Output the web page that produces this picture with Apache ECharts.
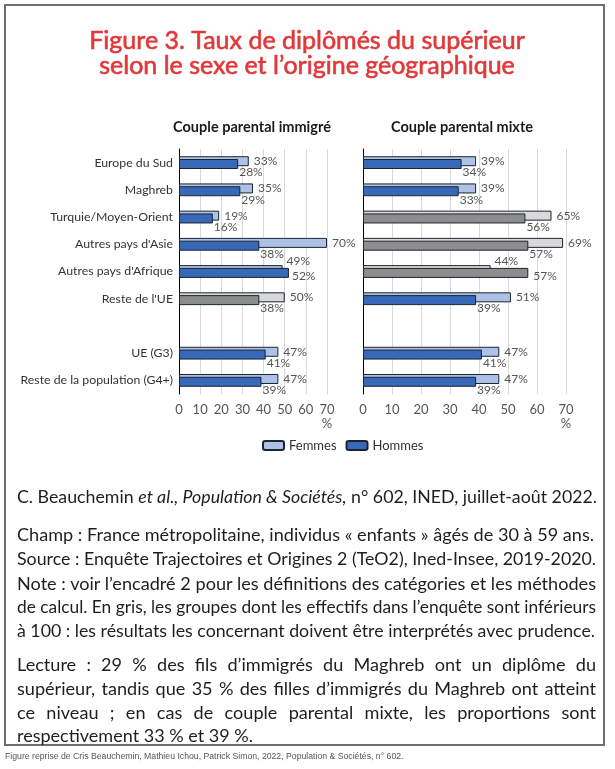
<!DOCTYPE html>
<html><head><meta charset="utf-8">
<script src="https://cdn.jsdelivr.net/npm/echarts@6/dist/echarts.min.js"></script>
<style>
html,body{margin:0;padding:0;background:#fff;}
#wrap{position:relative;width:615px;height:769px;overflow:hidden;background:#fff;}
#chart{position:absolute;left:0;top:0;width:615px;height:769px;}
#frame{position:absolute;left:4px;top:4px;width:597px;height:738px;border:2px solid #6e6e6e;pointer-events:none;}
.ln{position:absolute;left:17px;white-space:nowrap;font-family:Lato,'Open Sans',sans-serif;font-size:15.5px;color:#1e1e1e;line-height:20px;transform-origin:0 0;}
.j{text-align:justify;text-align-last:justify;}
#foot{position:absolute;left:5px;top:751px;font-family:'Liberation Sans',Arial,sans-serif;font-size:8.7px;color:#555;white-space:nowrap;}
</style></head>
<body>
<div id="wrap">
  <div id="chart"></div>
  <div id="frame"></div>
  <div class="ln" data-w="580" style="top:486px">C. Beauchemin <i>et al., Population &amp; Sociétés,</i> n° 602, INED, juillet-août 2022.</div>
  <div class="ln" id="champ" data-w="577" style="top:524px">Champ : France métropolitaine, individus « enfants » âgés de 30 à 59 ans.</div>
  <div class="ln" data-w="579" style="top:548px">Source : Enquête Trajectoires et Origines 2 (TeO2), Ined-Insee, 2019-2020.</div>
  <div class="ln" data-w="579" data-j="1" style="top:573px">Note : voir l’encadré 2 pour les définitions des catégories et les méthodes</div>
  <div class="ln" data-w="579" data-j="1" style="top:596px">de calcul. En gris, les groupes dont les effectifs dans l’enquête sont inférieurs</div>
  <div class="ln" data-w="578" style="top:620px">à 100 : les résultats les concernant doivent être interprétés avec prudence.</div>
  <div class="ln" data-w="579" data-j="1" style="top:654px">Lecture : 29 % des fils d’immigrés du Maghreb ont un diplôme du</div>
  <div class="ln" data-w="579" data-j="1" style="top:678px">supérieur, tandis que 35 % des filles d’immigrés du Maghreb ont atteint</div>
  <div class="ln" data-w="579" data-j="1" style="top:702px">ce niveau ; en cas de couple parental mixte, les proportions sont</div>
  <div class="ln" data-w="236" style="top:725px">respectivement 33 % et 39 %.</div>
  <div id="foot">Figure reprise de Cris Beauchemin, Mathieu Ichou, Patrick Simon, 2022, Population &amp; Sociétés, n° 602.</div>
</div>
<script>
// ---- data ----
const categories = ['Europe du Sud', 'Maghreb', 'Turquie/Moyen-Orient', "Autres pays d'Asie", "Autres pays d'Afrique", "Reste de l'UE", '', 'UE (G3)', 'Reste de la population (G4+)'];
const immigreFemmes = [33, 35, 19, 70, 49, 50, null, 47, 47];
const immigreHommes = [28, 29, 16, 38, 52, 38, null, 41, 39];
const mixteFemmes = [39, 39, 65, 69, 44, 51, null, 47, 47];
const mixteHommes = [34, 33, 56, 57, 57, 39, null, 41, 39];
const immigreGris = [0, 0, 0, 0, 0, 1, 0, 0, 0];
const mixteGris = [0, 0, 1, 1, 1, 0, 0, 0, 0];
const xTicks = [0, 10, 20, 30, 40, 50, 60, 70];
const panelTitles = ['Couple parental immigré', 'Couple parental mixte'];
const seriesNames = ['Femmes', 'Hommes'];

// ---- styles ----
const FONT = 'Lato, "Open Sans", sans-serif';
const BLUE = '#3868b8', BLUE_LIGHT = '#adc2e6';
const GRAY = '#8d8d8d', GRAY_LIGHT = '#d9d9d9';
const BORDER = '#1c2430';
const LABEL_COLOR = '#555555';
const RED = '#e2383a';

const femLabel = {show: true, position: 'right', distance: 5, formatter: '{c}%', fontFamily: FONT, fontSize: 12, color: LABEL_COLOR};
const homLabel = {show: true, position: ['100%', '100%'], align: 'left', verticalAlign: 'top', offset: [1, -2.5], formatter: '{c}%', fontFamily: FONT, fontSize: 12, color: LABEL_COLOR};

function buildData(vals, gris, isFem, panel) {
  return vals.map((v, i) => {
    if (v == null) return null;
    const item = {value: v};
    if (gris[i]) item.itemStyle = {color: isFem ? GRAY_LIGHT : GRAY};
    // hand-placed labels where bars of the same row overlap (as in the original)
    if (isFem && categories[i] === "Autres pays d'Afrique") {
      item.label = {position: ['100%', '0%'], align: 'left', verticalAlign: 'middle', offset: [4, -4]};
    }
    if (!isFem && categories[i] === "Autres pays d'Afrique") {
      if (panel === 1) item.label = {position: 'right', distance: 4};
      else item.label = {position: ['100%', '100%'], align: 'left', verticalAlign: 'middle', offset: [3, -1.5]};
    }
    return item;
  });
}

const grids = [
  {left: 179, top: 149, width: 148, height: 245},
  {left: 363, top: 149, width: 203, height: 245}
];

const xAxes = grids.map((g, gi) => ({
  gridIndex: gi, type: 'value',
  min: xTicks[0], max: xTicks[xTicks.length - 1], interval: xTicks[1] - xTicks[0],
  axisLine: {show: false}, axisTick: {show: false},
  splitLine: {show: true, lineStyle: {color: '#d9d9d9', width: 1}},
  axisLabel: {fontFamily: FONT, fontSize: 13, color: '#555555', margin: 9, lineHeight: 14,
    formatter: v => v === xTicks[xTicks.length - 1] ? v + '\n%' : '' + v}
}));

const yAxes = grids.map((g, gi) => ({
  gridIndex: gi, type: 'category', data: categories, inverse: true,
  axisLine: {show: true, lineStyle: {color: '#000', width: 1}},
  axisTick: {show: false},
  splitLine: {show: false},
  axisLabel: {show: gi === 0, fontFamily: FONT, fontSize: 12.3, color: '#333333', margin: 6}
}));

const panels = [[immigreFemmes, immigreHommes, immigreGris], [mixteFemmes, mixteHommes, mixteGris]];
const series = [];
panels.forEach((p, pi) => {
  series.push({
    type: 'bar', name: seriesNames[0], xAxisIndex: pi, yAxisIndex: pi,
    barWidth: 10, barGap: '-72%',
    itemStyle: {color: BLUE_LIGHT, borderColor: BORDER, borderWidth: 1},
    label: femLabel, data: buildData(p[0], p[2], true, pi)
  });
  series.push({
    type: 'bar', name: seriesNames[1], xAxisIndex: pi, yAxisIndex: pi,
    barWidth: 10, barGap: '-72%',
    itemStyle: {color: BLUE, borderColor: BORDER, borderWidth: 1},
    label: homLabel, data: buildData(p[1], p[2], false, pi)
  });
});

const chart = echarts.init(document.getElementById('chart'), null, {renderer: 'canvas'});
chart.setOption({
  animation: false,
  backgroundColor: 'transparent',
  grid: grids,
  xAxis: xAxes,
  yAxis: yAxes,
  series: series,
  legend: {
    data: seriesNames, left: 257, top: 434, itemWidth: 21, itemHeight: 9, itemGap: 9,
    textStyle: {fontFamily: FONT, fontSize: 13, color: '#333'}, selectedMode: false
  },
  graphic: [
    {type: 'text', x: 307, y: 53, style: {text: 'Figure 3. Taux de diplômés du supérieur\nselon le sexe et l’origine géographique',
      align: 'center', verticalAlign: 'middle', fontFamily: FONT, fontSize: 25, fontWeight: 'normal', lineHeight: 25,
      fill: RED, stroke: RED, lineWidth: 0.6}},
    {type: 'text', x: 252, y: 127, style: {text: panelTitles[0], align: 'center', verticalAlign: 'middle', fontFamily: FONT, fontSize: 14.5, fontWeight: 'bold', fill: '#1a1a1a'}},
    {type: 'text', x: 462, y: 127, style: {text: panelTitles[1], align: 'center', verticalAlign: 'middle', fontFamily: FONT, fontSize: 14.5, fontWeight: 'bold', fill: '#1a1a1a'}}
  ]
});

// fit note lines to their widths in the original
function fitLines() {
  const lines = Array.from(document.querySelectorAll('.ln'));
  const champ = document.getElementById('champ');
  champ.style.fontSize = '16px'; champ.style.transform = ''; champ.style.width = 'auto';
  const w16 = champ.getBoundingClientRect().width;
  const fs = 16 * (+champ.dataset.w) / w16;
  lines.forEach(el => { el.style.fontSize = fs + 'px'; });
  lines.forEach(el => {
    const target = +el.dataset.w;
    el.classList.remove('j');
    el.style.width = 'auto'; el.style.transform = '';
    const w = el.getBoundingClientRect().width;
    if (el.dataset.j) {
      if (w > target) { el.style.width = w + 'px'; el.style.transform = 'scaleX(' + (target / w) + ')'; }
      else el.style.width = target + 'px';
      el.classList.add('j');
    } else {
      const s = Math.max(0.9, Math.min(1.1, target / w));
      el.style.transform = 'scaleX(' + s + ')';
    }
  });
}
fitLines();
if (document.fonts && document.fonts.ready) document.fonts.ready.then(fitLines);
</script>
</body></html>
